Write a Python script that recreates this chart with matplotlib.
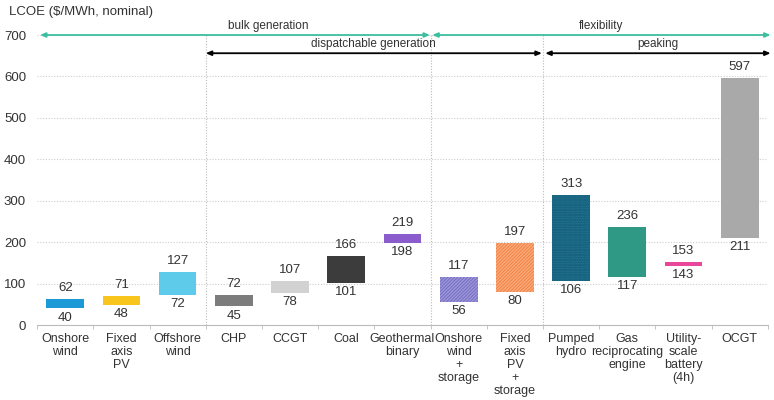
import numpy as np
import matplotlib
matplotlib.use("Agg")
import matplotlib.pyplot as plt

plt.rcParams.update({
    "font.family": ["Liberation Sans", "DejaVu Sans"],
    "font.size": 9,
    "hatch.linewidth": 0.7,
})

technologies = ["Onshore\nwind", "Fixed\naxis\nPV", "Offshore\nwind", "CHP", "CCGT", "Coal",
                "Geothermal\nbinary", "Onshore\nwind\n+\nstorage", "Fixed\naxis\nPV\n+\nstorage",
                "Pumped\nhydro", "Gas\nreciprocating\nengine", "Utility-\nscale\nbattery\n(4h)", "OCGT"]
lcoe_low = [40, 48, 72, 45, 78, 101, 198, 56, 80, 106, 117, 143, 211]
lcoe_high = [62, 71, 127, 72, 107, 166, 219, 117, 197, 313, 236, 153, 597]

colors = ["#1b9ad7", "#f7c51b", "#5ecbeb", "#7c7c7c", "#d2d2d2", "#3c3c3c", "#8b5ccb",
          "#7b73c4", "#f4874a", "#0d5875", "#2f9985", "#e9479b", "#a9a9a9"]
hatch_colors = {7: "#a49ee0", 8: "#fbb48a", 9: "#2f7f9c"}
hatches = {7: "//////////", 8: "//////////", 9: ".........."}

# group spans: (label, start boundary, end boundary, y level, colour)
groups = [
    ("bulk generation", -0.45, 6.49, 700, "#3dbf9f"),
    ("flexibility", 6.53, 12.55, 700, "#3dbf9f"),
    ("dispatchable generation", 2.5, 8.48, 656, "black"),
    ("peaking", 8.54, 12.55, 656, "black"),
]
separators = [2.5, 6.5, 8.5]

fig = plt.figure(figsize=(7.74, 4.0), dpi=100)
ax = fig.add_axes([0.048, 0.1875, 0.944, 0.725])

x = np.arange(len(technologies))
heights = [h - l for l, h in zip(lcoe_low, lcoe_high)]
for i in range(len(technologies)):
    if i in hatches:
        ax.bar(x[i], heights[i], bottom=lcoe_low[i], width=0.67, color=colors[i],
               hatch=hatches[i], edgecolor=hatch_colors[i], linewidth=0, zorder=3)
    else:
        ax.bar(x[i], heights[i], bottom=lcoe_low[i], width=0.67, color=colors[i],
               linewidth=0, zorder=3)
    ax.text(x[i], lcoe_high[i] + 12, f"{lcoe_high[i]}", ha="center", va="bottom",
            fontsize=9.5, color="#333333")
    ax.text(x[i], lcoe_low[i] - 8, f"{lcoe_low[i]}", ha="center", va="top",
            fontsize=9.5, color="#333333")

ax.set_xlim(-0.5, len(technologies) - 0.5)
ax.set_ylim(0, 700)
ax.set_yticks(range(0, 701, 100))
ax.yaxis.grid(True, linestyle=(0, (1, 1.5)), color="#cccccc", linewidth=0.8)
ax.set_axisbelow(True)

for xs in separators:
    ax.axvline(xs, ymin=0, ymax=1, color="#bbbbbb", linestyle=(0, (1, 1.5)), linewidth=0.8, zorder=1)

for label, x0, x1, yv, c in groups:
    ax.annotate("", xy=(x0, yv), xytext=(x1, yv), annotation_clip=False,
                arrowprops=dict(arrowstyle="<|-|>,head_length=0.35,head_width=0.15",
                                color=c, lw=1.3, shrinkA=0, shrinkB=0))
    ax.text((x0 + x1) / 2 + (0.6 if label == "bulk generation" else 0), yv + 8, label,
            ha="center", va="bottom", fontsize=8.5, color="#333333", clip_on=False)

ax.set_xticks(x)
ax.set_xticklabels(technologies, fontsize=9, color="#333333", linespacing=1.1)
ax.set_xticks(np.arange(-0.5, len(technologies)), minor=True)
ax.tick_params(axis="x", which="major", length=0, pad=6)
ax.tick_params(axis="x", which="minor", length=3, color="#bbbbbb")
ax.tick_params(axis="y", length=0, labelsize=9.5, labelcolor="#333333", pad=8)

for s in ["top", "right", "left"]:
    ax.spines[s].set_visible(False)
ax.spines["bottom"].set_color("#bbbbbb")

fig.text(0.012, 0.955, "LCOE ($/MWh, nominal)", fontsize=9.5, color="#333333", va="bottom")

fig.savefig("out.png", dpi=100)
